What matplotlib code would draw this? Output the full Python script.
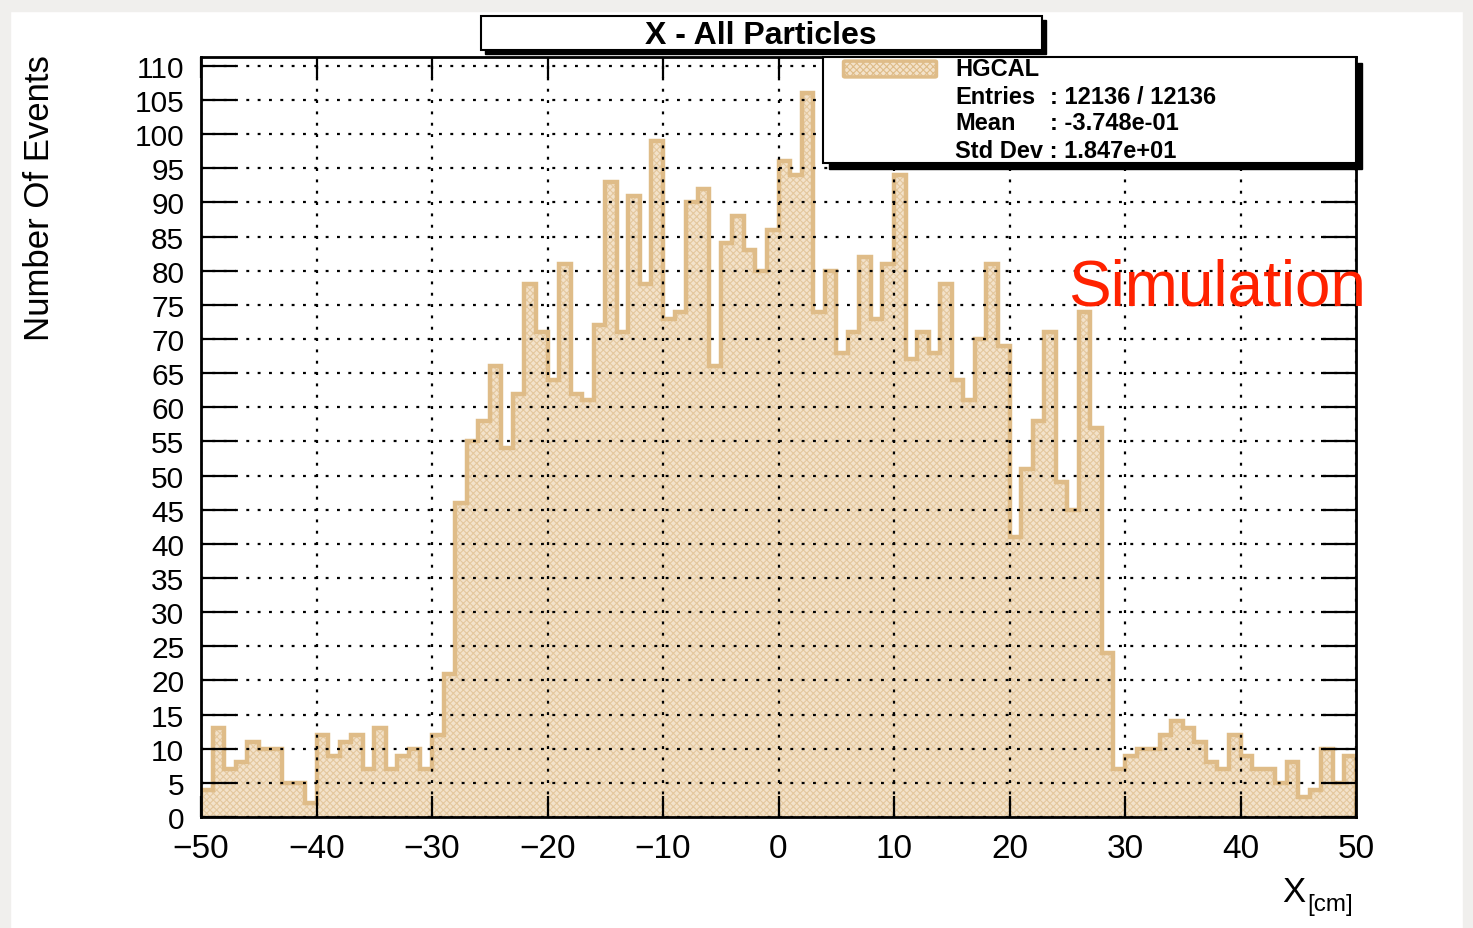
import numpy as np
import matplotlib
matplotlib.use("Agg")
import matplotlib.pyplot as plt
from matplotlib.patches import Rectangle, FancyBboxPatch

plt.rcParams['font.family'] = ['Liberation Sans', 'DejaVu Sans']
plt.rcParams['hatch.linewidth'] = 0.8

# ---- data (1 cm bins from -50 to 50) ----
bin_low = -50
bin_high = 50
counts = [4, 13, 7, 8, 11, 10, 10, 5, 5, 2,
          12, 9, 11, 12, 7, 13, 7, 9, 10, 7,
          12, 21, 46, 55, 58, 66, 54, 62, 78, 71,
          64, 81, 62, 61, 72, 93, 71, 91, 78, 99,
          73, 74, 90, 92, 66, 84, 88, 83, 80, 86,
          96, 94, 106, 74, 80, 68, 71, 82, 73, 81,
          94, 67, 71, 68, 78, 64, 61, 70, 81, 69,
          41, 51, 58, 71, 49, 45, 74, 57, 24, 7,
          9, 10, 10, 12, 14, 13, 11, 8, 7, 12,
          9, 7, 7, 5, 8, 3, 4, 10, 5, 9]
x_ticks = [-50, -40, -30, -20, -10, 0, 10, 20, 30, 40, 50]
y_ticks = list(range(0, 111, 5))
title = "X - All Particles"
stats_name = "HGCAL"
stats_labels = ["Entries", "Mean"]
stats_values = [": 12136 / 12136", ": -3.748e-01"]
stats_std = "Std Dev : 1.847e+01"

W, H = 1473, 929
fig = plt.figure(figsize=(W / 100, H / 100), dpi=100)
fig.patch.set_facecolor('white')

def fx(px):
    return px / W

def fy(py):
    return 1 - py / H

# textured paper border (approximate as light grey bands)
grey = '#f0efed'
fig.patches.append(Rectangle((0, 0), fx(10), 1, transform=fig.transFigure, color=grey, zorder=0))
fig.patches.append(Rectangle((0, fy(12)), 1, 12 / H, transform=fig.transFigure, color=grey, zorder=0))
fig.patches.append(Rectangle((fx(1463), 0), 10 / W, 1, transform=fig.transFigure, color=grey, zorder=0))

ax_l, ax_r, ax_t, ax_b = 201, 1356, 58, 818
ax = fig.add_axes([fx(ax_l), fy(ax_b), (ax_r - ax_l) / W, (ax_b - ax_t) / H])

edges = np.arange(bin_low, bin_high + 1, 1)
tan = '#dfbc88'
ax.stairs(counts, edges, fill=True, facecolor='#f3e2ca', edgecolor='#e4c89e',
          hatch='xxxxx', linewidth=0, zorder=1)
ax.stairs(counts, edges, fill=False, color=tan, linewidth=3.2, zorder=2)

ax.set_xlim(bin_low, bin_high)
ax.set_ylim(0, 111.3)
ax.set_xticks(x_ticks)
ax.set_yticks(y_ticks)
ax.grid(True, color='black', linestyle=(0, (1.3, 3.8)), linewidth=1.6, zorder=3)
ax.set_axisbelow(False)
ax.tick_params(axis='x', direction='in', length=15, width=1.6, top=True, bottom=True,
               labelsize=24, pad=11.5)
ax.tick_params(axis='y', direction='in', length=25, width=1.6, left=True, right=True,
               labelsize=21.5, pad=12)
for sp in ax.spines.values():
    sp.set_linewidth(2)
    sp.set_zorder(6)

# axis labels
fig.text(fx(40), fy(55), "Number Of Events", rotation=90, ha='center', va='top', fontsize=25)
fig.text(fx(1282), fy(902), "X", ha='left', va='baseline', fontsize=25)
fig.text(fx(1307), fy(911), "[cm]", ha='left', va='baseline', fontsize=17.5)

# Simulation label
fig.text(fx(1068), fy(305), "Simulation", ha='left', va='baseline', fontsize=46, color='#ff2200', zorder=10)

# title box with shadow
tb_l, tb_r, tb_t, tb_b = 481, 1042, 17, 51
fig.patches.append(Rectangle((fx(tb_l + 4), fy(tb_b + 4)), (tb_r - tb_l) / W, (tb_b - tb_t) / H,
                             transform=fig.transFigure, facecolor='black', edgecolor='black', zorder=7))
fig.patches.append(Rectangle((fx(tb_l), fy(tb_b)), (tb_r - tb_l) / W, (tb_b - tb_t) / H,
                             transform=fig.transFigure, facecolor='white', edgecolor='black', lw=1.5, zorder=8))
fig.text(fx(761), fy(36), title, ha='center', va='center', fontsize=23, fontweight='bold', zorder=9)

# stats box with shadow
sb_l, sb_r, sb_t, sb_b = 823, 1356, 58, 164
fig.patches.append(Rectangle((fx(sb_l + 6), fy(sb_b + 6)), (sb_r - sb_l) / W, (sb_b - sb_t) / H,
                             transform=fig.transFigure, facecolor='black', edgecolor='black', zorder=7))
fig.patches.append(Rectangle((fx(sb_l), fy(sb_b)), (sb_r - sb_l) / W, (sb_b - sb_t) / H,
                             transform=fig.transFigure, facecolor='white', edgecolor='black', lw=1.5, zorder=8))
fig.patches.append(FancyBboxPatch((fx(845), fy(77)), (935 - 845) / W, (77 - 63) / H,
                                  boxstyle="round,pad=0.001", transform=fig.transFigure,
                                  facecolor='#f3e2ca', edgecolor=tan, hatch='xxxxx', lw=2.5, zorder=9))
fs = 17
fig.text(fx(955), fy(69), stats_name, ha='left', va='center', fontsize=fs, fontweight='bold', zorder=10)
ys = [97, 124]
for lab, val, yy in zip(stats_labels, stats_values, ys):
    fig.text(fx(955), fy(yy), lab, ha='left', va='center', fontsize=fs, fontweight='bold', zorder=10)
    fig.text(fx(1050), fy(yy), val, ha='left', va='center', fontsize=fs, fontweight='bold', zorder=10)
fig.text(fx(955), fy(151), stats_std, ha='left', va='center', fontsize=fs, fontweight='bold', zorder=10)

fig.savefig("out.png", dpi=100, facecolor=fig.get_facecolor())
